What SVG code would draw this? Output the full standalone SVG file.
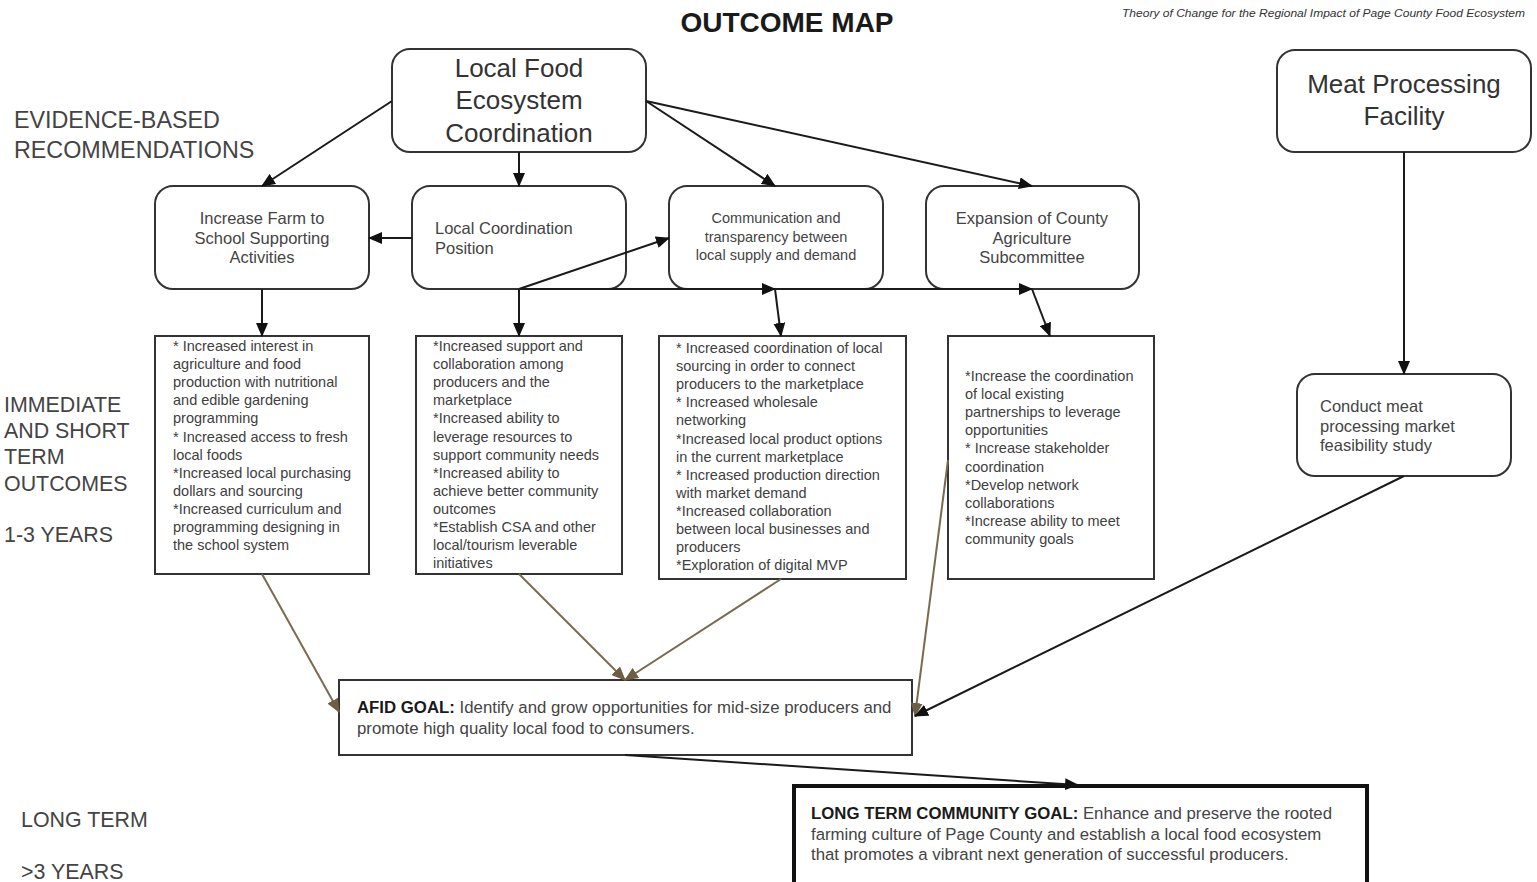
<svg xmlns="http://www.w3.org/2000/svg" width="1537" height="882" viewBox="0 0 1537 882">
<style>
  text { font-family: "Liberation Sans", Arial, sans-serif; fill: #404040; }
  .title { font-size: 28px; font-weight: bold; fill: #1a1a1a; }
  .sub { font-size: 11.5px; font-style: italic; fill: #333; }
  .side { font-size: 23.3px; fill: #444; }
  .side2 { font-size: 21.4px; fill: #444; }
  .big { font-size: 26px; fill: #333; text-anchor: middle; }
  .mid { font-size: 16.5px; fill: #444; }
  .midc { font-size: 16.5px; fill: #444; text-anchor: middle; }
  .smc { font-size: 14.5px; fill: #444; text-anchor: middle; }
  .body { font-size: 14.5px; fill: #404040; }
  .goal { font-size: 16.8px; fill: #444; }
  .b { font-weight: bold; fill: #1a1a1a; }
  .rbox { fill: #fff; stroke: #333; stroke-width: 2; }
  .sbox { fill: #fff; stroke: #333; stroke-width: 2; }
  .lt { fill: #fff; stroke: #111; stroke-width: 4; }
  .c { fill: none; stroke: #1a1a1a; stroke-width: 2; }
  .cb { fill: none; stroke: #7a6a4f; stroke-width: 2; }
</style>
<defs>
  <marker id="ah" markerUnits="userSpaceOnUse" markerWidth="14" markerHeight="12" refX="13" refY="6" orient="auto">
    <path d="M0,0 L14,6 L0,12 z" fill="#111"/>
  </marker>
  <marker id="ahb" markerUnits="userSpaceOnUse" markerWidth="14" markerHeight="12" refX="13" refY="6" orient="auto">
    <path d="M0,0 L14,6 L0,12 z" fill="#6e5e43"/>
  </marker>
</defs>
<rect width="1537" height="882" fill="#fff"/>

<text class="title" x="787" y="32" text-anchor="middle">OUTCOME MAP</text>
<text class="sub" x="1122" y="17" textLength="403" lengthAdjust="spacingAndGlyphs">Theory of Change for the Regional Impact of Page County Food Ecosystem</text>

<g id="labels">
  <text class="side" x="14" y="128">EVIDENCE-BASED</text>
  <text class="side" x="14" y="158">RECOMMENDATIONS</text>
  <text class="side2" x="4" y="412">IMMEDIATE</text>
  <text class="side2" x="4" y="438">AND SHORT</text>
  <text class="side2" x="4" y="464">TERM</text>
  <text class="side2" x="4" y="491">OUTCOMES</text>
  <text class="side2" x="4" y="542">1-3 YEARS</text>
  <text class="side2" x="21" y="827">LONG TERM</text>
  <text class="side2" x="21" y="879">&gt;3 YEARS</text>
</g>

<g id="node-lfec">
  <rect class="rbox" x="392" y="49" width="254" height="103" rx="18"/>
  <text class="big" x="519" y="77">Local Food</text>
  <text class="big" x="519" y="109">Ecosystem</text>
  <text class="big" x="519" y="142">Coordination</text>
</g>
<g id="node-meat">
  <rect class="rbox" x="1277" y="50" width="254" height="102" rx="18"/>
  <text class="big" x="1404" y="93">Meat Processing</text>
  <text class="big" x="1404" y="125">Facility</text>
</g>
<g id="node-farm">
  <rect class="rbox" x="155" y="186" width="214" height="103" rx="18"/>
  <text class="midc" x="262" y="224">Increase Farm to</text>
  <text class="midc" x="262" y="244">School Supporting</text>
  <text class="midc" x="262" y="263">Activities</text>
</g>
<g id="node-lcp">
  <rect class="rbox" x="412" y="186" width="214" height="103" rx="18"/>
  <text class="mid" x="435" y="234">Local Coordination</text>
  <text class="mid" x="435" y="254">Position</text>
</g>
<g id="node-comm">
  <rect class="rbox" x="669" y="186" width="214" height="103" rx="18"/>
  <text class="smc" x="776" y="223">Communication and</text>
  <text class="smc" x="776" y="242">transparency between</text>
  <text class="smc" x="776" y="260">local supply and demand</text>
</g>
<g id="node-exp">
  <rect class="rbox" x="926" y="186" width="213" height="103" rx="18"/>
  <text class="midc" x="1032" y="224">Expansion of County</text>
  <text class="midc" x="1032" y="244">Agriculture</text>
  <text class="midc" x="1032" y="263">Subcommittee</text>
</g>
<g id="node-conduct">
  <rect class="rbox" x="1297" y="374" width="214" height="102" rx="18"/>
  <text class="mid" x="1320" y="412">Conduct meat</text>
  <text class="mid" x="1320" y="432">processing market</text>
  <text class="mid" x="1320" y="451">feasibility study</text>
</g>

<g id="node-out1">
  <rect class="sbox" x="155" y="336" width="214" height="238"/>
  <text class="body" x="173" y="351">
    <tspan x="173">* Increased interest in</tspan>
    <tspan x="173" dy="18.1">agriculture and food</tspan>
    <tspan x="173" dy="18.1">production with nutritional</tspan>
    <tspan x="173" dy="18.1">and edible gardening</tspan>
    <tspan x="173" dy="18.1">programming</tspan>
    <tspan x="173" dy="18.1">* Increased access to fresh</tspan>
    <tspan x="173" dy="18.1">local foods</tspan>
    <tspan x="173" dy="18.1">*Increased local purchasing</tspan>
    <tspan x="173" dy="18.1">dollars and sourcing</tspan>
    <tspan x="173" dy="18.1">*Increased curriculum and</tspan>
    <tspan x="173" dy="18.1">programming designing in</tspan>
    <tspan x="173" dy="18.1">the school system</tspan>
  </text>
</g>
<g id="node-out2">
  <rect class="sbox" x="416" y="336" width="206" height="238"/>
  <text class="body" x="433" y="351">
    <tspan x="433">*Increased support and</tspan>
    <tspan x="433" dy="18.1">collaboration among</tspan>
    <tspan x="433" dy="18.1">producers and the</tspan>
    <tspan x="433" dy="18.1">marketplace</tspan>
    <tspan x="433" dy="18.1">*Increased ability to</tspan>
    <tspan x="433" dy="18.1">leverage resources to</tspan>
    <tspan x="433" dy="18.1">support community needs</tspan>
    <tspan x="433" dy="18.1">*Increased ability to</tspan>
    <tspan x="433" dy="18.1">achieve better community</tspan>
    <tspan x="433" dy="18.1">outcomes</tspan>
    <tspan x="433" dy="18.1">*Establish CSA and other</tspan>
    <tspan x="433" dy="18.1">local/tourism leverable</tspan>
    <tspan x="433" dy="18.1">initiatives</tspan>
  </text>
</g>
<g id="node-out3">
  <rect class="sbox" x="659" y="336" width="247" height="243"/>
  <text class="body" x="676" y="353">
    <tspan x="676">* Increased coordination of local</tspan>
    <tspan x="676" dy="18.1">sourcing in order to connect</tspan>
    <tspan x="676" dy="18.1">producers to the marketplace</tspan>
    <tspan x="676" dy="18.1">* Increased wholesale</tspan>
    <tspan x="676" dy="18.1">networking</tspan>
    <tspan x="676" dy="18.1">*Increased local product options</tspan>
    <tspan x="676" dy="18.1">in the current marketplace</tspan>
    <tspan x="676" dy="18.1">* Increased production direction</tspan>
    <tspan x="676" dy="18.1">with market demand</tspan>
    <tspan x="676" dy="18.1">*Increased collaboration</tspan>
    <tspan x="676" dy="18.1">between local businesses and</tspan>
    <tspan x="676" dy="18.1">producers</tspan>
    <tspan x="676" dy="18.1">*Exploration of digital MVP</tspan>
  </text>
</g>
<g id="node-out4">
  <rect class="sbox" x="948" y="336" width="206" height="243"/>
  <text class="body" x="965" y="381">
    <tspan x="965">*Increase the coordination</tspan>
    <tspan x="965" dy="18.1">of local existing</tspan>
    <tspan x="965" dy="18.1">partnerships to leverage</tspan>
    <tspan x="965" dy="18.1">opportunities</tspan>
    <tspan x="965" dy="18.1">* Increase stakeholder</tspan>
    <tspan x="965" dy="18.1">coordination</tspan>
    <tspan x="965" dy="18.1">*Develop network</tspan>
    <tspan x="965" dy="18.1">collaborations</tspan>
    <tspan x="965" dy="18.1">*Increase ability to meet</tspan>
    <tspan x="965" dy="18.1">community goals</tspan>
  </text>
</g>

<g id="node-afid">
  <rect class="sbox" x="339" y="680" width="573" height="75"/>
  <text class="goal" x="357" y="713"><tspan class="b">AFID GOAL:</tspan> Identify and grow opportunities for mid-size producers and</text>
  <text class="goal" x="357" y="734">promote high quality local food to consumers.</text>
</g>
<g id="node-longterm">
  <rect class="lt" x="794" y="786" width="573" height="98"/>
  <text class="goal" x="811" y="819"><tspan class="b">LONG TERM COMMUNITY GOAL:</tspan> Enhance and preserve the rooted</text>
  <text class="goal" x="811" y="840">farming culture of Page County and establish a local food ecosystem</text>
  <text class="goal" x="811" y="860">that promotes a vibrant next generation of successful producers.</text>
</g>

<g id="connectors">
  <path class="c" d="M392,101 L262,186" marker-end="url(#ah)"/>
  <path class="c" d="M519,152 L519,186" marker-end="url(#ah)"/>
  <path class="c" d="M646,101 L775,186" marker-end="url(#ah)"/>
  <path class="c" d="M646,101 L1032,186" marker-end="url(#ah)"/>
  <path class="c" d="M412,238 L369,238" marker-end="url(#ah)"/>
  <path class="c" d="M262,289 L262,336" marker-end="url(#ah)"/>
  <path class="c" d="M519,289 L669,238" marker-end="url(#ah)"/>
  <path class="c" d="M519,289 L775,289" marker-end="url(#ah)"/>
  <path class="c" d="M775,289 L1032,289" marker-end="url(#ah)"/>
  <path class="c" d="M519,289 L519,336" marker-end="url(#ah)"/>
  <path class="c" d="M775,289 L781,336" marker-end="url(#ah)"/>
  <path class="c" d="M1032,289 L1050,336" marker-end="url(#ah)"/>
  <path class="c" d="M1404,152 L1404,374" marker-end="url(#ah)"/>
  <path class="cb" d="M262,574 L339,712" marker-end="url(#ahb)"/>
  <path class="cb" d="M519,574 L625,680" marker-end="url(#ahb)"/>
  <path class="cb" d="M781,579 L625,680" marker-end="url(#ahb)"/>
  <path class="cb" d="M948,460 L915,716" marker-end="url(#ahb)"/>
  <path class="c" d="M1404,476 L915,716" marker-end="url(#ah)"/>
  <path class="c" d="M625,755 L1078,785" marker-end="url(#ah)"/>
</g>
</svg>
